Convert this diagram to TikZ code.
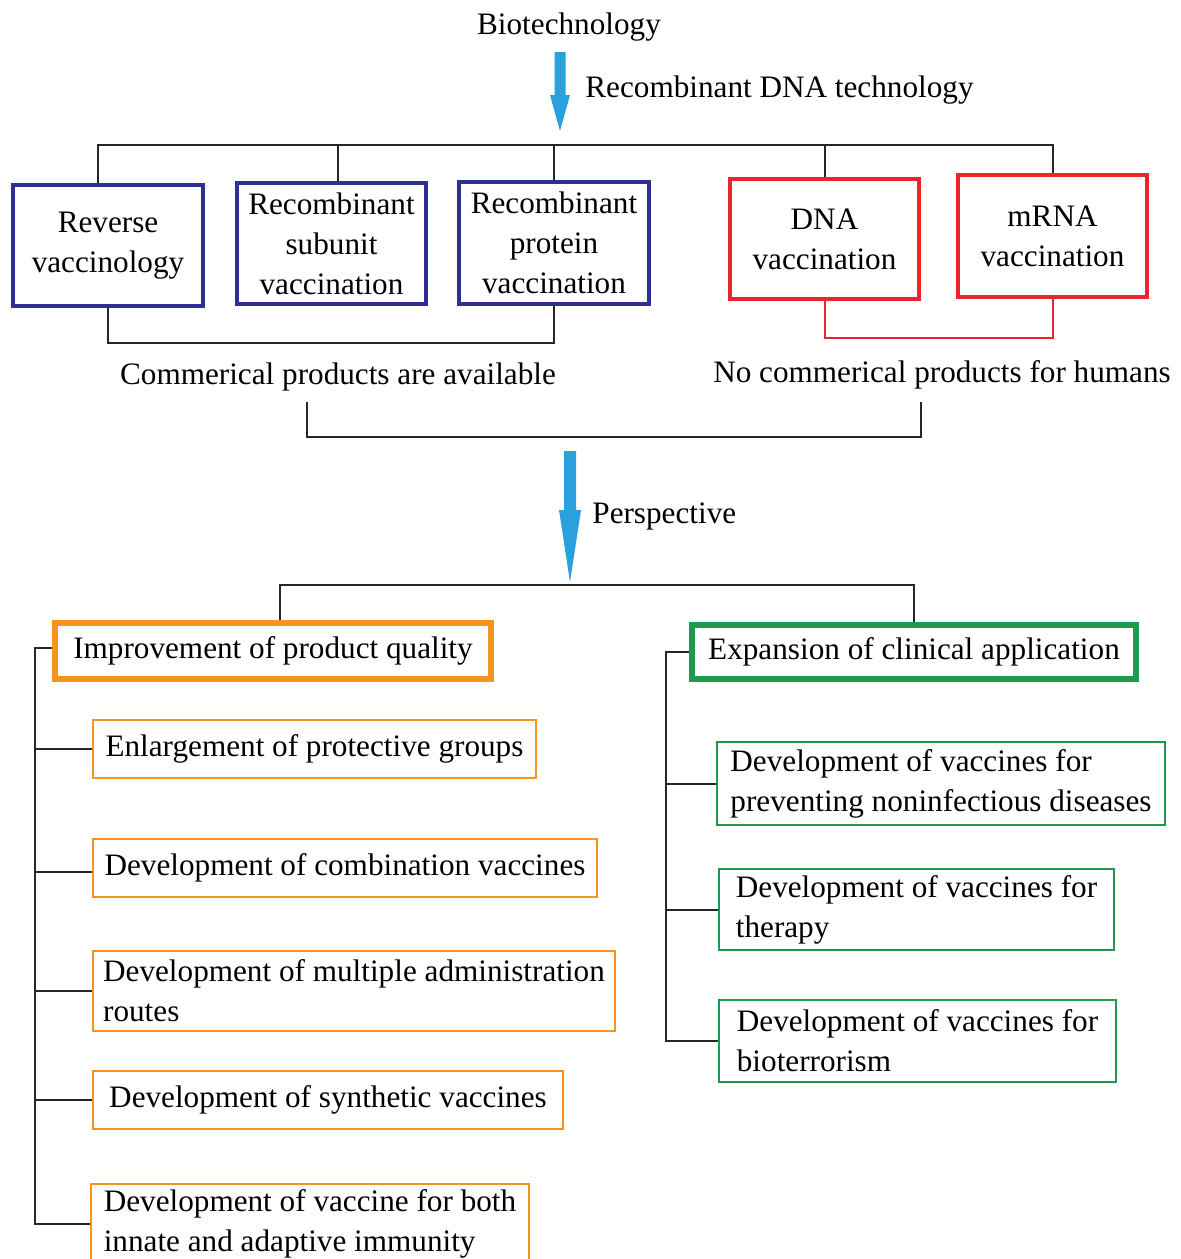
\documentclass[tikz,border=0pt]{standalone}
\usepackage{fontspec}
\setmainfont{Liberation Serif}
\definecolor{boxblue}{HTML}{2E3192}
\definecolor{boxred}{HTML}{E8262C}
\definecolor{boxorange}{HTML}{F7941D}
\definecolor{boxgreen}{HTML}{1E9A4F}
\definecolor{arrowblue}{HTML}{2AA0DC}
\begin{document}
\begin{tikzpicture}[x=0.5pt,y=-0.5pt,
  every node/.style={font=\fontsize{15.6pt}{20pt}\selectfont, inner sep=0pt},
  conn/.style={line width=1pt, draw=black!85},
  redconn/.style={line width=1pt, draw=boxred},
  bluebox/.style={draw=boxblue, line width=2pt, align=center},
  redbox/.style={draw=boxred, line width=2pt, align=center},
  othick/.style={draw=boxorange, line width=3pt, align=left},
  gthick/.style={draw=boxgreen, line width=3pt, align=left},
  othin/.style={draw=boxorange, line width=1.2pt, align=left},
  gthin/.style={draw=boxgreen, line width=1.2pt, align=left},
  fatarrow/.style={fill=arrowblue, draw=none}
]
\path[use as bounding box, fill=white] (0,0) rectangle (1180,1259);

% top texts
\node (bio) at (569,27) {Biotechnology};
\node[anchor=west] (rdna) at (585,90) {Recombinant DNA technology};

% top arrow
\fill[fatarrow] (554.5,52) -- (565.5,52) -- (565.5,95) -- (570,95) -- (560,131) -- (550,95) -- (554.5,95) -- cycle;

% first row boxes
\node[bluebox, minimum width=95pt, minimum height=60.5pt] (b1) at (108,245.5) {Reverse\\vaccinology};
\node[bluebox, minimum width=94.5pt, minimum height=60.5pt] (b2) at (331.5,243.5) {Recombinant\\subunit\\vaccination};
\node[bluebox, minimum width=95pt, minimum height=61pt] (b3) at (554,243) {Recombinant\\protein\\vaccination};
\node[redbox, minimum width=94.5pt, minimum height=60pt] (r1) at (824.5,239) {DNA\\vaccination};
\node[redbox, minimum width=94.5pt, minimum height=61pt] (r2) at (1052.5,236) {mRNA\\vaccination};

% top bus
\coordinate (bus) at (0,145);
\draw[conn] ([xshift=-5pt]b1.north) |- (bus -| r2.north) -- (r2.north);
\draw[conn] ([xshift=3.25pt]b2.north) -- ++(0,-36.5);
\draw[conn] (b3.north) -- (b3.north |- bus);
\draw[conn] (r1.north) -- (r1.north |- bus);

% bottom connectors of first row
\coordinate (cb) at (0,343);
\coordinate (cr) at (0,338);
\draw[conn] (b1.south) -- (b1.south |- cb) -- (b3.south |- cb) -- (b3.south);
\draw[redconn] (r1.south) -- (r1.south |- cr) -- (r2.south |- cr) -- (r2.south);

% labels
\node (avail) at (338,377) {Commerical products are available};
\node (noprod) at (942,375) {No commerical products for humans};
\coordinate (brL) at (307,402);
\coordinate (brR) at (921,402);
\draw[conn] (brL) -- ++(0,35) -| (brR);

% second arrow
\fill[fatarrow] (564,451) -- (576,451) -- (576,510) -- (581,510) -- (570,582) -- (559,510) -- (564,510) -- cycle;
\node[anchor=west] (persp) at (592,516) {Perspective};

% second level boxes
\node[othick, minimum width=218pt, minimum height=28pt] (o0) at (273,651) {Improvement of product quality};
\node[gthick, minimum width=222pt, minimum height=27pt] (g0) at (914,652) {Expansion of clinical application};

\coordinate (bus2) at (0,585);
\draw[conn] ([xshift=3.5pt]o0.north) |- (bus2 -| g0.north) -- (g0.north);

% orange sub-boxes
\node[othin, minimum width=221.5pt, minimum height=29pt] (o1) at (314.5,749) {Enlargement of protective groups};
\node[othin, minimum width=252pt, minimum height=29pt] (o2) at (345,868) {Development of combination vaccines};
\node[othin, minimum width=261pt, minimum height=40pt] (o3) at (354,991) {Development of multiple administration\\routes};
\node[othin, minimum width=235pt, minimum height=29pt] (o4) at (328,1100) {Development of synthetic vaccines};
\node[othin, minimum width=219pt, minimum height=39.5pt] (o5) at (310,1223.5) {Development of vaccine for both\\innate and adaptive immunity};

% green sub-boxes
\node[gthin, minimum width=224pt, minimum height=41.5pt] (g1) at (941,783.5) {Development of vaccines for\\preventing noninfectious diseases};
\node[gthin, minimum width=197.5pt, minimum height=40.5pt] (g2) at (916.5,909.5) {Development of vaccines for\\therapy};
\node[gthin, minimum width=198.5pt, minimum height=41pt] (g3) at (917.5,1041) {Development of vaccines for\\bioterrorism};

% left spine
\coordinate (ls) at (35,0);
\draw[conn] ([yshift=1.5pt]o0.west) -- ([yshift=1.5pt]o0.west -| ls) -- (o5.west -| ls) -- (o5.west);
\draw[conn] (o1.west -| ls) -- (o1.west);
\draw[conn] ([yshift=-2pt]o2.west -| ls) -- ([yshift=-2pt]o2.west);
\draw[conn] (o3.west -| ls) -- (o3.west);
\draw[conn] (o4.west -| ls) -- (o4.west);

% right spine
\coordinate (rs) at (666,0);
\draw[conn] (g0.west) -- (g0.west -| rs) -- (g3.west -| rs) -- (g3.west);
\draw[conn] (g1.west -| rs) -- (g1.west);
\draw[conn] (g2.west -| rs) -- (g2.west);
\end{tikzpicture}
\end{document}
